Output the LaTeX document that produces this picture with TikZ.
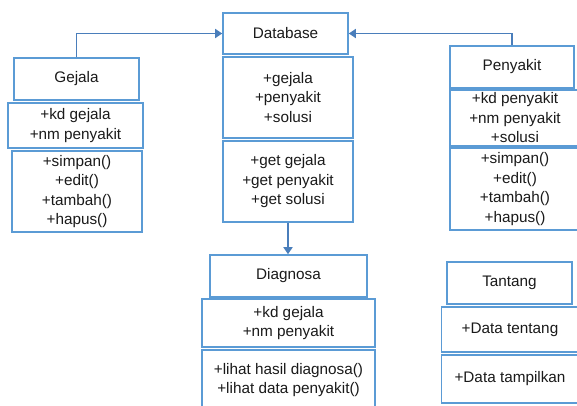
\documentclass[tikz,border=0pt]{standalone}
\usepackage{fontspec}
\setmainfont{Liberation Sans}
\usetikzlibrary{arrows.meta}

\definecolor{boxline}{HTML}{5B9BD5}
\definecolor{linkline}{HTML}{4A7EBB}
\definecolor{textgray}{HTML}{1A1A1A}

\begin{document}
\begin{tikzpicture}[x=1pt,y=-1pt,
    font=\fontsize{15.3}{19.5}\selectfont,
    umlbox/.style={draw=boxline, line width=1.6pt, fill=white, inner sep=0pt,
      align=center, text=textgray},
    link/.style={draw=linkline, line width=1.6pt,
      -{Triangle[width=9pt,length=7pt]}}]
      \useasboundingbox (0,0) rectangle (577,405);
      % Gejala
      \node[umlbox, minimum width=125pt, minimum height=42pt] (gejala) at (76.5,79) {Gejala};
      \node[umlbox, minimum width=135pt, minimum height=45pt] (gejalaattr) at (75.5,125.5) {+kd gejala\\+nm penyakit};
      \node[umlbox, minimum width=130pt, minimum height=81pt] (gejalameth) at (77,191.5) {+simpan()\\+edit()\\+tambah()\\+hapus()};
      % Database
      \node[umlbox, minimum width=125pt, minimum height=41pt] (database) at (285.5,33.5) {Database};
      \node[umlbox, minimum width=130pt, minimum height=81pt] (dbattr) at (288,97.5) {+gejala\\+penyakit\\+solusi};
      \node[umlbox, minimum width=130pt, minimum height=81pt] (dbmeth) at (288,181.5) {+get gejala\\+get penyakit\\+get solusi};
      % Penyakit
      \node[umlbox, minimum width=124pt, minimum height=42pt] (penyakit) at (512,67) {Penyakit};
      \node[umlbox, minimum width=130pt, minimum height=56pt] (penyakitattr) at (515,118) {+kd penyakit\\+nm penyakit\\+solusi};
      \node[umlbox, minimum width=130pt, minimum height=82pt] (penyakitmeth) at (515,189) {+simpan()\\+edit()\\+tambah()\\+hapus()};
      % Diagnosa
      \node[umlbox, minimum width=157pt, minimum height=42pt] (diagnosa) at (288.5,276) {Diagnosa};
      \node[umlbox, minimum width=173pt, minimum height=48pt] (diagnosaattr) at (288.5,323) {+kd gejala\\+nm penyakit};
      \node[umlbox, minimum width=173pt, minimum height=60pt] (diagnosameth) at (288.5,380) {+lihat hasil diagnosa()\\+lihat data penyakit()};
      % Tantang
      \node[umlbox, minimum width=125pt, minimum height=42pt] (tantang) at (509.5,283) {Tantang};
      \node[umlbox, minimum width=137pt, minimum height=45pt] (tantangattr) at (510,329.5) {+Data tentang};
      \node[umlbox, minimum width=137pt, minimum height=48pt] (tantangmeth) at (510,379) {+Data tampilkan};
      % links
      \draw[link] (gejala.north) |- (database.west);
      \draw[link] (penyakit.north) |- (database.east);
      \draw[link] (dbmeth.south) -- (dbmeth.south |- diagnosa.north);
    \end{tikzpicture}
\end{document}
